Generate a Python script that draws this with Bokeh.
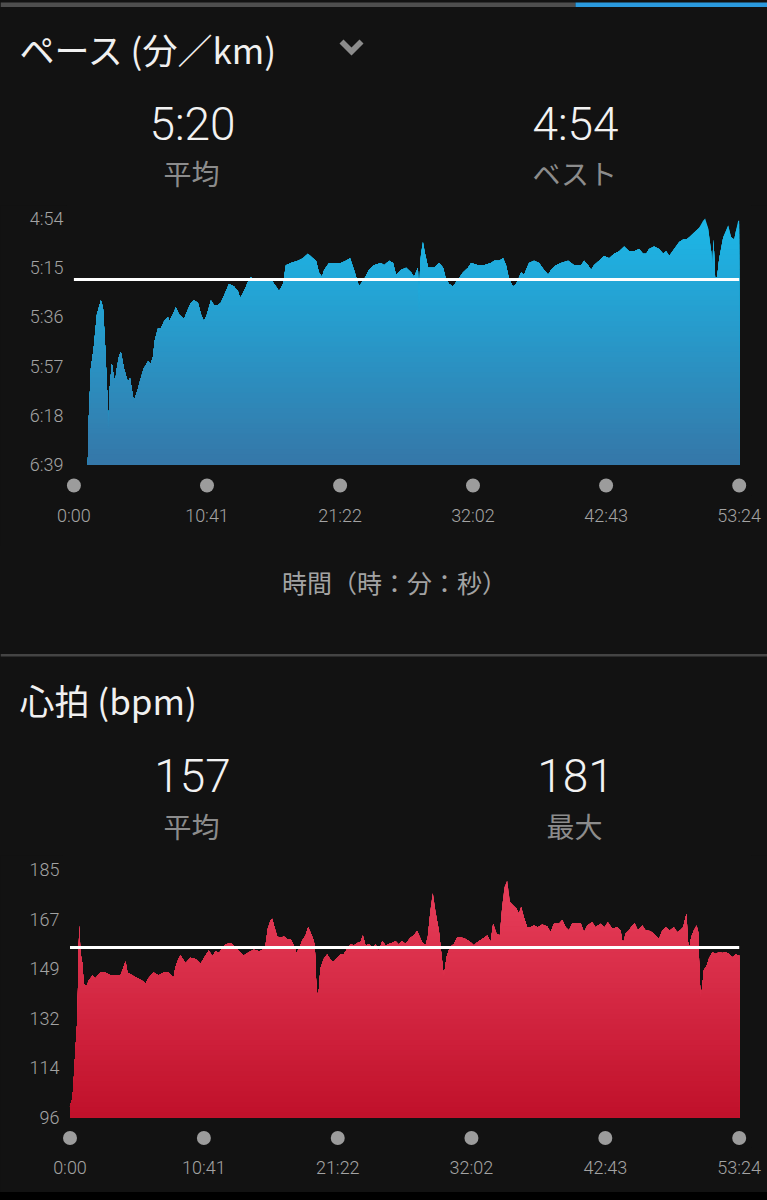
import numpy as np
from bokeh.plotting import figure
from bokeh.models import Range1d, FixedTicker, Label, Div
from bokeh.layouts import column
from bokeh.embed import file_html
from bokeh.resources import INLINE

# ---------------- data ----------------
time_ticks = [0, 641, 1282, 1922, 2563, 3204]
time_labels = ["0:00", "10:41", "21:22", "32:02", "42:43", "53:24"]

pace_ticks = [294, 315, 336, 357, 378, 399]
pace_tick_labels = ["4:54", "5:15", "5:36", "5:57", "6:18", "6:39"]
pace_avg = 320
pace_stats = ["5:20", "4:54"]
pace_stat_names = ["平均", "ベスト"]

pace_t = [67, 72, 82, 96, 111, 130, 140, 149, 159, 169,
          173, 183, 193, 198, 207, 217, 226, 241, 260, 270,
          284, 289, 308, 323, 337, 357, 371, 381, 390, 405,
          419, 434, 453, 458, 477, 491, 506, 530, 549, 564,
          578, 597, 612, 626, 641, 660, 675, 694, 708, 723,
          747, 771, 790, 800, 814, 829, 843, 853, 867, 886,
          915, 949, 973, 988, 1007, 1021, 1045, 1079, 1103, 1127,
          1151, 1166, 1180, 1195, 1205, 1229, 1253, 1286, 1310, 1330,
          1349, 1373, 1397, 1421, 1445, 1479, 1494, 1518, 1537, 1551,
          1575, 1600, 1624, 1638, 1657, 1662, 1667, 1672, 1681, 1691,
          1706, 1734, 1759, 1778, 1792, 1807, 1826, 1850, 1874, 1898,
          1913, 1946, 1975, 2009, 2024, 2048, 2067, 2081, 2096, 2115,
          2130, 2154, 2168, 2192, 2216, 2240, 2264, 2284, 2298, 2322,
          2346, 2380, 2409, 2443, 2457, 2476, 2491, 2505, 2529, 2553,
          2578, 2602, 2626, 2650, 2674, 2698, 2722, 2741, 2756, 2770,
          2794, 2818, 2838, 2852, 2867, 2891, 2915, 2934, 2949, 2963,
          2987, 3011, 3030, 3040, 3054, 3069, 3074, 3079, 3083, 3088,
          3098, 3108, 3127, 3151, 3165, 3180, 3189, 3199, 3204]
pace_v = [399, 379, 358, 349, 335, 329, 332, 346, 366, 384,
          366, 356, 362, 364, 358, 353, 351, 358, 364, 362,
          370, 372, 367, 362, 358, 355, 356, 353, 346, 341,
          341, 338, 336, 338, 335, 332, 335, 337, 333, 330,
          329, 330, 335, 338, 335, 329, 331, 331, 330, 327,
          322, 323, 325, 328, 326, 323, 320, 319, 320, 321,
          320, 320, 323, 325, 322, 314, 313, 312, 311, 309,
          311, 312, 317, 319, 316, 313, 313, 313, 312, 311,
          316, 323, 320, 316, 314, 313, 314, 312, 313, 318,
          316, 315, 317, 319, 315, 335, 315, 309, 304, 309,
          315, 315, 313, 315, 320, 322, 323, 320, 317, 315,
          313, 314, 314, 313, 312, 312, 311, 314, 320, 323,
          322, 317, 318, 313, 312, 313, 316, 318, 316, 314,
          313, 312, 314, 314, 312, 314, 316, 314, 312, 310,
          311, 309, 308, 306, 308, 308, 307, 309, 309, 307,
          306, 307, 309, 308, 310, 307, 304, 303, 303, 302,
          300, 298, 295, 294, 298, 308, 319, 303, 308, 319,
          319, 311, 302, 297, 302, 303, 299, 295, 295]

hr_ticks = [96, 113.8, 131.6, 149.4, 167.2, 185]
hr_tick_labels = ["96", "114", "132", "149", "167", "185"]
hr_avg = 157
hr_stats = ["157", "181"]
hr_stat_names = ["平均", "最大"]

hr_t = [0, 12, 17, 26, 36, 41, 45, 50, 60, 65,
        79, 89, 108, 122, 146, 170, 194, 218, 242, 266,
        275, 299, 323, 347, 361, 376, 400, 424, 448, 472,
        496, 505, 520, 529, 553, 577, 601, 625, 649, 665,
        681, 697, 713, 728, 744, 768, 784, 808, 832, 856,
        880, 904, 920, 936, 947, 960, 968, 979, 992, 1008,
        1024, 1040, 1056, 1072, 1084, 1096, 1112, 1128, 1140, 1151,
        1164, 1172, 1180, 1185, 1192, 1199, 1215, 1231, 1247, 1263,
        1279, 1295, 1311, 1327, 1343, 1359, 1375, 1391, 1402, 1415,
        1431, 1447, 1463, 1479, 1495, 1511, 1527, 1542, 1558, 1574,
        1590, 1606, 1630, 1646, 1662, 1675, 1686, 1702, 1713, 1726,
        1737, 1750, 1766, 1777, 1790, 1803, 1819, 1838, 1854, 1870,
        1894, 1918, 1934, 1950, 1974, 1998, 2014, 2026, 2042, 2058,
        2070, 2081, 2093, 2106, 2122, 2138, 2149, 2160, 2173, 2189,
        2205, 2221, 2240, 2261, 2285, 2301, 2317, 2341, 2357, 2373,
        2389, 2405, 2429, 2445, 2461, 2477, 2500, 2516, 2540, 2560,
        2575, 2596, 2620, 2636, 2647, 2660, 2676, 2692, 2703, 2719,
        2740, 2756, 2777, 2796, 2820, 2836, 2852, 2872, 2891, 2907,
        2923, 2936, 2947, 2952, 2958, 2965, 2974, 2987, 3000, 3008,
        3013, 3019, 3026, 3035, 3048, 3059, 3075, 3091, 3107, 3123,
        3139, 3155, 3171, 3187, 3204]
hr_v = [100, 103, 108, 120, 132, 156, 165, 155, 151, 144,
        143, 145, 147, 146, 148, 148, 147, 147, 147, 152,
        148, 147, 146, 145, 144, 146, 148, 147, 148, 148,
        146, 150, 153, 154.1, 151.4, 153.3, 152.9, 151.1, 154.1, 155.9,
        153.8, 155.7, 155.0, 156.5, 158.1, 158.6, 157.7, 155.7, 154.1, 155.3,
        156.2, 155.7, 155.9, 157.7, 163.7, 166.7, 167.3, 164.3, 161.0, 160.5,
        161.0, 160.1, 160.1, 157.7, 155.0, 156.5, 159.5, 161.3, 164.3, 162.5,
        160.1, 157.7, 142, 140, 142, 149.4, 152.9, 154.5, 152.6, 151.8,
        153.3, 154.5, 154.7, 156.5, 158.3, 157.7, 158.6, 158.9, 161.3, 157.7,
        158.3, 157.1, 158.1, 155.7, 159.3, 157.7, 158.3, 158.6, 159.3, 158.1,
        159.3, 158.3, 160.5, 161.3, 162.9, 160.7, 158.9, 157.7, 160.7, 170.3,
        176.5, 169.7, 163.1, 155.3, 146.4, 153.5, 157.1, 158.3, 160.7, 160.7,
        160.1, 158.9, 157.7, 158.9, 160.1, 161.3, 158.9, 165.5, 161.9, 161.3,
        172.1, 178.7, 181, 173.3, 172.1, 170.9, 169.1, 171.5, 167.9, 164.3,
        164.3, 164.9, 164.3, 165.3, 164.5, 162.5, 165.5, 165.5, 166.9, 164.3,
        163.1, 165.7, 165.5, 165.7, 162.5, 164.9, 166.1, 164.3, 165.5, 164.3,
        166.1, 163.7, 164.3, 163.1, 158.1, 161.9, 163.1, 164.9, 165.7, 163.1,
        164.9, 163.1, 162.9, 161.9, 160.1, 163.1, 164.3, 163.1, 164.3, 162.5,
        163.3, 164.3, 167.9, 169.1, 159.5, 156.5, 160.7, 163.1, 164.9, 162.5,
        150, 139, 142, 148.8, 150.5, 153, 155.3, 154.7, 155.3, 155,
        155.3, 154.7, 153.5, 154.5, 154.1]

# ---------------- style ----------------
BG = "#121212"
W = 767
TITLE_C = "#f0f0f0"
NUM_C = "#f2f2f2"
SUB_C = "#8c8c8c"
AX_C = "#a3a3a3"
DOT_C = "#9c9c9c"
JP = "Noto Sans CJK JP"
LAT = "Roboto Light, Roboto"


def lin(p0, v0, p1, v1):
    k = (v1 - v0) / (p1 - p0)
    return lambda p: v0 + (p - p0) * k


def mix(c0, c1, f):
    a = [int(c0[i:i + 2], 16) for i in (1, 3, 5)]
    b = [int(c1[i:i + 2], 16) for i in (1, 3, 5)]
    return "#%02x%02x%02x" % tuple(int(round(a[j] + (b[j] - a[j]) * f)) for j in range(3))


def style(p):
    p.background_fill_color = BG
    p.border_fill_color = BG
    p.outline_line_color = None
    p.grid.visible = False


def text_fig(y0, y1):
    """Panel for headings: data coordinates equal page pixels."""
    p = figure(width=W, height=y1 - y0, x_range=Range1d(0, W), y_range=Range1d(y1, y0),
               output_backend="svg", toolbar_location=None, min_border=0,
               x_axis_location=None, y_axis_location=None, frame_align=False)
    style(p)
    return p


def label(p, x, y, text, size, color, font, align="center"):
    p.add_layout(Label(x=x, y=y, text=text, text_align=align,
                       text_baseline="middle", text_font=font,
                       text_font_size=size, text_color=color))


def chart(y0, y1, frame, fx, fy, xs, ys, base, top_level, c_top, c_bot,
          yticks, ylabels, avg, dot_py):
    L, R, T, B = frame
    p = figure(width=W, height=y1 - y0,
               x_range=Range1d(fx(L), fx(R)), y_range=Range1d(fy(B), fy(T)),
               output_backend="svg", toolbar_location=None,
               min_border_left=L, min_border_right=W - R,
               min_border_top=T - y0, min_border_bottom=y1 - B,
               frame_align=False)
    style(p)

    x = np.asarray(xs, float)
    y = np.asarray(ys, float)
    n = 48
    levels = np.linspace(top_level, base, n + 1)[:-1]
    for i, lv in enumerate(levels):
        col = mix(c_top, c_bot, (i + 0.5) / n)
        y2 = np.minimum(y, lv) if base < top_level else np.maximum(y, lv)
        p.varea(x=x, y1=base, y2=y2, fill_color=col)

    p.segment(x0=[time_ticks[0]], x1=[time_ticks[-1]], y0=[avg], y1=[avg],
              line_color="white", line_width=3)
    p.scatter(x=time_ticks, y=[fy(dot_py)] * len(time_ticks), size=14,
              fill_color=DOT_C, line_color=None)

    p.xaxis.ticker = FixedTicker(ticks=time_ticks)
    p.xaxis.major_label_overrides = {t: s for t, s in zip(time_ticks, time_labels)}
    p.yaxis.ticker = FixedTicker(ticks=yticks)
    p.yaxis.major_label_overrides = {t: s for t, s in zip(yticks, ylabels)}
    for ax in (p.xaxis[0], p.yaxis[0]):
        ax.axis_line_color = None
        ax.major_tick_line_color = None
        ax.minor_tick_line_color = None
        ax.major_tick_out = 0
        ax.major_tick_in = 0
        ax.major_label_text_color = AX_C
        ax.major_label_text_font = LAT
    p.xaxis.major_label_text_font_size = "18px"
    p.xaxis.major_label_standoff = 9
    p.yaxis.major_label_text_font_size = "18px"
    p.yaxis.major_label_standoff = 3
    return p


# ---------------- pace header ----------------
hA = text_fig(0, 205)
hA.quad(left=[0, 575], right=[575, W], top=[2, 2], bottom=[6.5, 6.5],
        fill_color=["#4e4e4e", "#2a9ade"], line_color=None)
hA.patch(x=[339, 343, 351, 359, 363, 351], y=[43, 39, 47, 39, 43, 55],
         fill_color="#8c8c8c", line_color=None)
label(hA, 19, 48, "ペース (分／km)", "35px", TITLE_C, JP, "left")
label(hA, 192, 123, pace_stats[0], "46px", NUM_C, LAT)
label(hA, 575, 123, pace_stats[1], "46px", NUM_C, LAT)
label(hA, 191, 172, pace_stat_names[0], "28px", SUB_C, JP)
label(hA, 574, 172, pace_stat_names[1], "28px", SUB_C, JP)

# ---------------- pace chart ----------------
fx1 = lin(73.4, time_ticks[0], 738.7, time_ticks[-1])
fy1 = lin(218, pace_ticks[0], 464, pace_ticks[-1])
p1 = chart(205, 545, (66, 751, 205, 495), fx1, fy1, pace_t, pace_v,
           pace_ticks[-1], pace_ticks[0], "#1cb8e8", "#3577a8",
           pace_ticks, pace_tick_labels, pace_avg, 485)

# ---------------- middle: axis title, separator, HR header ----------------
hC = text_fig(545, 855)
label(hC, 394, 581, "時間（時：分：秒）", "25px", AX_C, JP)
hC.quad(left=[0], right=[W], top=[653.5], bottom=[656], fill_color="#444444",
        line_color=None)
label(hC, 19, 699, "心拍 (bpm)", "35px", TITLE_C, JP, "left")
label(hC, 192, 775, hr_stats[0], "46px", NUM_C, LAT)
label(hC, 575, 775, hr_stats[1], "46px", NUM_C, LAT)
label(hC, 191, 825, hr_stat_names[0], "28px", SUB_C, JP)
label(hC, 574, 825, hr_stat_names[1], "28px", SUB_C, JP)

# ---------------- heart-rate chart ----------------
fx2 = lin(69.5, time_ticks[0], 738.7, time_ticks[-1])
fy2 = lin(1117, hr_ticks[0], 869, hr_ticks[-1])
p2 = chart(855, 1192, (62, 751, 855, 1147), fx2, fy2, hr_t, hr_v,
           hr_ticks[0], hr_ticks[-1], "#ea425e", "#c0102a",
           hr_ticks, hr_tick_labels, hr_avg, 1137.5)

foot = Div(text="", width=W, height=8, margin=0,
           styles={"background-color": "#000000"})

layout = column(hA, p1, hC, p2, foot, spacing=0,
                styles={"background-color": BG})
open("out.html", "w").write(file_html(layout, INLINE))
